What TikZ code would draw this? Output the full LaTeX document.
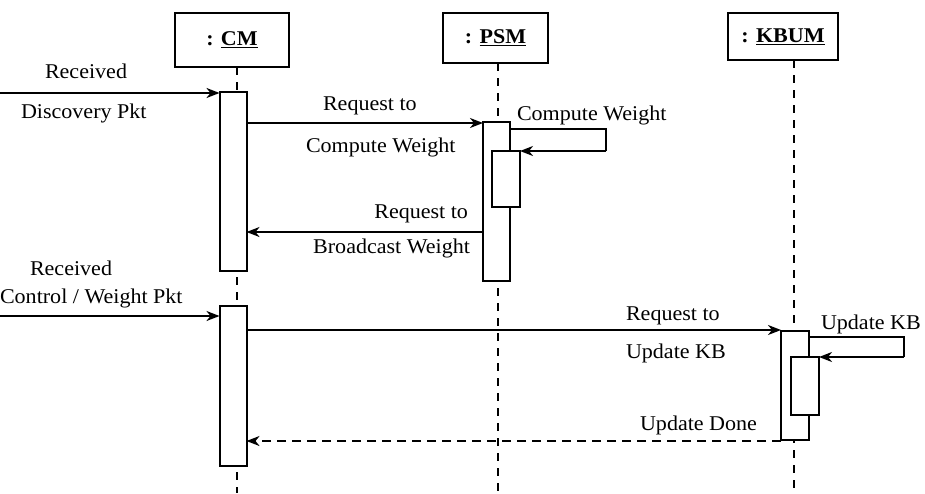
\documentclass[tikz,border=0pt]{standalone}
\usepackage{fontspec}
\setmainfont{Liberation Serif}[FakeStretch=1.05]
\usetikzlibrary{arrows.meta}
\begin{document}
\begin{tikzpicture}[x=1pt,y=-1pt,
  every node/.style={inner sep=0pt, outer sep=0pt},
  head/.style={draw, line width=2.4pt, fill=white,
    font=\fontsize{21}{25}\selectfont\bfseries},
  bar/.style={draw, line width=2pt, fill=white, minimum width=27pt},
  lbl/.style={font=\fontsize{21}{25}\selectfont, anchor=base west},
  msg/.style={line width=1.8pt, -{Stealth[length=13pt,width=10pt,inset=4pt]}},
  reply/.style={msg, dash pattern=on 9pt off 6pt},
  life/.style={line width=1.5pt, dash pattern=on 8pt off 7pt},
]
\useasboundingbox (0,0) rectangle (925,493);

% object heads
\node[head, minimum width=114pt, minimum height=54pt] (cm)   at (232,40)   {: \underline{CM}};
\node[head, minimum width=105pt, minimum height=50pt] (psm)  at (495.5,38) {: \underline{PSM}};
\node[head, minimum width=110pt, minimum height=47pt] (kbum) at (783,36.5) {: \underline{KBUM}};

% lifeline ends
\coordinate (cmEnd)   at (237,493);
\coordinate (psmEnd)  at (498,493);
\coordinate (kbumEnd) at (794,493);
\draw[life] (cm.south -| cmEnd) -- (cmEnd);
\draw[life] (psm.south -| psmEnd) -- (psmEnd);
\draw[life] (kbum.south -| kbumEnd) -- (kbumEnd);

% activation bars
\node[bar, minimum height=179pt] (cm1)  at (233,181.5) {};
\node[bar, minimum height=160pt] (cm2)  at (233,386)   {};
\node[bar, minimum height=159pt] (psmA) at (496.5,201.5) {};
\node[bar, minimum height=56pt, minimum width=28pt] (psmB) at (506,179) {};
\node[bar, minimum height=109pt, minimum width=28pt] (kbA) at (795,385.5) {};
\node[bar, minimum height=58pt, minimum width=28pt]  (kbB) at (805,386)   {};

% message rows
\coordinate (in1)  at (0,93);
\coordinate (r2)   at (0,123);
\coordinate (r3)   at (0,232);
\coordinate (in4)  at (0,316);
\coordinate (r5)   at (0,330);
\coordinate (r6)   at (0,441);
\coordinate (loopA) at (606,129);
\coordinate (loopB) at (904,337);

\draw[msg] (in1) -- (in1 -| cm1.west);
\draw[msg] (cm1.east |- r2) -- (psmA.west |- r2);
\draw[line width=1.8pt] (psmA.east |- loopA) -- (loopA) -- (loopA |- psmB.north);
\draw[msg] (loopA |- psmB.north) -- (psmB.north east);
\draw[msg] (psmA.west |- r3) -- (cm1.east |- r3);
\draw[msg] (in4) -- (in4 -| cm2.west);
\draw[msg] (cm2.east |- r5) -- (kbA.west |- r5);
\draw[line width=1.8pt] (kbA.east |- loopB) -- (loopB) -- (loopB |- kbB.north);
\draw[msg] (loopB |- kbB.north) -- (kbB.north east);
\draw[reply] (kbA.west |- r6) -- (cm2.east |- r6);

% labels
\node[lbl] (t1a) at (45,78)   {Received};
\node[lbl] (t1b) at (21,118)  {Discovery Pkt};
\node[lbl] (t2a) at (323,110) {Request to};
\node[lbl] (t2b) at (306,152) {Compute Weight};
\node[lbl] (t2c) at (517,120) {Compute Weight};
\node[lbl, anchor=base east] (t3a) at (468,218) {Request to};
\node[lbl, anchor=base east] (t3b) at (470,253) {Broadcast Weight};
\node[lbl] (t4a) at (30,275)  {Received};
\node[lbl] (t4b) at (0,303)   {Control / Weight Pkt};
\node[lbl] (t5a) at (626,320) {Request to};
\node[lbl] (t5b) at (626,358) {Update KB};
\node[lbl] (t5c) at (821,329) {Update KB};
\node[lbl, anchor=base east] (t6) at (757,430) {Update Done};
\end{tikzpicture}
\end{document}
